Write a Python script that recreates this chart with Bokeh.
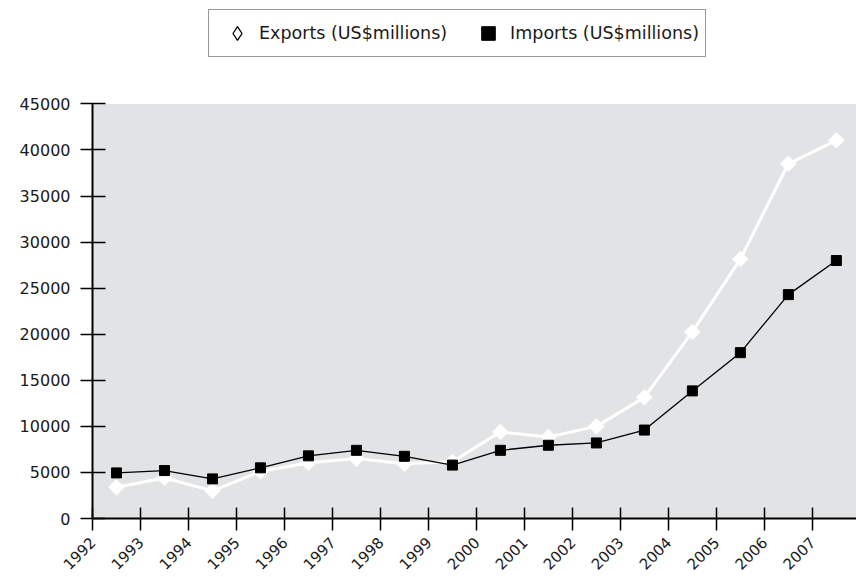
import math
from bokeh.plotting import figure
from bokeh.models import (FixedTicker, Legend, LegendItem, ColumnDataSource,
                          Range1d, BoxAnnotation)
from bokeh.embed import file_html
from bokeh.resources import INLINE

years = [1992, 1993, 1994, 1995, 1996, 1997, 1998, 1999,
         2000, 2001, 2002, 2003, 2004, 2005, 2006, 2007]
exports = [3400, 4400, 3000, 5100, 6050, 6500, 5950, 6150,
           9400, 8850, 10000, 13150, 20250, 28150, 38500, 41050]
imports = [4950, 5200, 4300, 5500, 6800, 7400, 6750, 5800,
           7400, 7950, 8200, 9600, 13850, 18000, 24300, 28000]
y_ticks = [0, 5000, 10000, 15000, 20000, 25000, 30000, 35000, 40000, 45000]
y_min, y_max = 0, 45000
export_label = "Exports (US$millions)"
import_label = "Imports (US$millions)"

# layout: frame spans the full figure height above the x axis; the value range
# 0..45000 occupies the lower 417 px, the space above holds the legend
FRAME_H = 521
DATA_H = 417
view_top = y_max * FRAME_H / DATA_H

xs = [i + 0.5 for i in range(len(years))]
src = ColumnDataSource(dict(x=xs, exp=exports, imp=imports))

p = figure(width=856, height=577, output_backend="svg", toolbar_location=None,
           x_range=Range1d(0, 15.92), y_range=Range1d(y_min, view_top),
           min_border_left=92, min_border_right=0, min_border_top=0,
           min_border_bottom=56)
p.background_fill_color = "white"
p.border_fill_color = "white"
p.outline_line_color = None
p.grid.visible = False

p.add_layout(BoxAnnotation(bottom=y_min, top=y_max, fill_color="#e2e3e5",
                           fill_alpha=1, line_color=None, level="underlay"))

# Exports: white line with white diamonds
p.line("x", "exp", source=src, line_color="white", line_width=3)
p.scatter("x", "exp", source=src, marker="square", angle=math.pi / 4, size=11,
          fill_color="white", line_color="white")
# Imports: black line with black squares
p.line("x", "imp", source=src, line_color="black", line_width=1.3)
p.scatter("x", "imp", source=src, marker="square", size=10,
          fill_color="black", line_color="black")

# legend-only renderers (not drawn: NaN position)
nan_src = ColumnDataSource(dict(x=[float("nan")], y=[float("nan")]))
r_exp = p.scatter("x", "y", source=nan_src, marker="diamond", size=13,
                  fill_color="white", line_color="black", line_width=1.3)
r_imp = p.scatter("x", "y", source=nan_src, marker="square", size=13,
                  fill_color="black", line_color="black")

legend = Legend(items=[LegendItem(label=export_label, renderers=[r_exp]),
                       LegendItem(label=import_label, renderers=[r_imp])],
                orientation="horizontal", location=(116, 461),
                padding=6, spacing=19, glyph_width=44, glyph_height=34,
                label_height=20, label_standoff=0, margin=0,
                border_line_color="#333333", border_line_width=1,
                background_fill_color="white", background_fill_alpha=1,
                label_text_font="DejaVu Sans", label_text_font_size="17.5px",
                label_text_color="#1a1a1a")
p.add_layout(legend, "center")

# axes
for ax in (p.xaxis[0], p.yaxis[0]):
    ax.axis_line_color = "black"
    ax.axis_line_width = 2
    ax.major_tick_line_color = "black"
    ax.major_tick_line_width = 1.5
    ax.minor_tick_line_color = None
    ax.major_label_text_color = "#1a1a1a"
    ax.major_label_text_font = "DejaVu Sans"

p.yaxis.bounds = (y_min, y_max)
p.yaxis.ticker = FixedTicker(ticks=y_ticks)
p.yaxis.major_tick_in = 13
p.yaxis.major_tick_out = 12
p.yaxis.major_label_text_font_size = "16px"
p.yaxis.major_label_standoff = 10

p.xaxis.ticker = FixedTicker(ticks=list(range(len(years))))
p.xaxis.major_label_overrides = {i: str(y) for i, y in enumerate(years)}
p.xaxis.major_tick_in = 11
p.xaxis.major_tick_out = 12
p.xaxis.major_label_orientation = math.pi / 4
p.xaxis.major_label_text_font_size = "15px"
p.xaxis.major_label_standoff = 9

open("out.html", "w").write(file_html(p, INLINE))
